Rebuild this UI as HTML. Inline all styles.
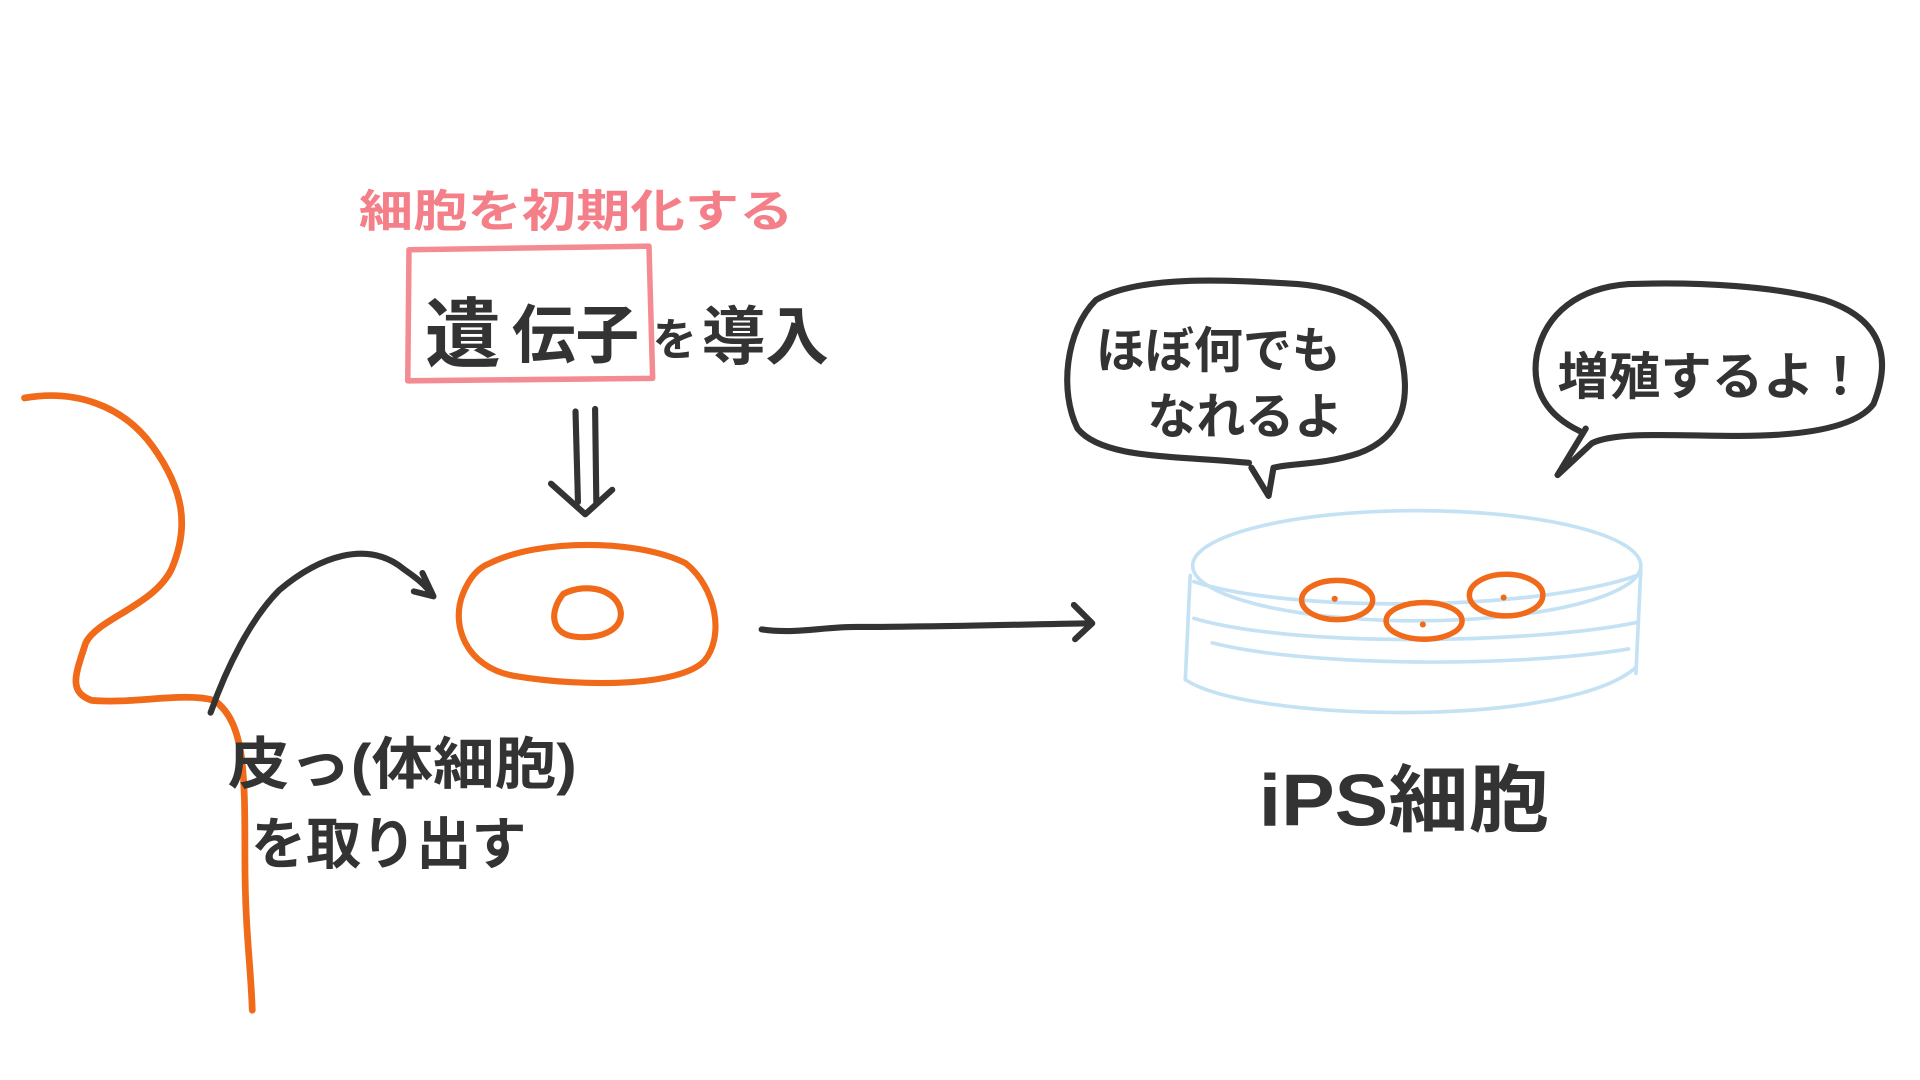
<!DOCTYPE html>
<html><head><meta charset="utf-8"><style>
html,body{margin:0;padding:0;background:#fff;width:1920px;height:1080px;overflow:hidden}
svg{display:block}
text{font-family:"Liberation Sans","Noto Sans CJK JP",sans-serif;font-weight:bold}
</style></head><body>
<svg width="1920" height="1080" viewBox="0 0 1568 882" xmlns="http://www.w3.org/2000/svg">
<g fill="none" stroke-linecap="round" stroke-linejoin="round">
<path d="M20 325 C60 318 100 330 125 365 C150 400 155 430 140 465 C125 495 80 505 70 525 C62 550 55 565 75 572 C110 575 150 565 175 572 C200 590 200 630 200 700 C200 760 205 790 206 825" stroke="#f06a1a" stroke-width="5.5"/>
<path d="M172 582 C185 545 205 505 228 482 C260 455 300 440 330 465 C340 472 348 478 352 485" stroke="#333" stroke-width="5"/>
<path d="M345 468 L354 487 L338 483" stroke="#333" stroke-width="5"/>
<path d="M400 460 C440 440 520 440 560 460 C585 480 592 520 575 540 C555 560 480 562 420 552 C380 545 368 510 378 485 C384 470 392 463 400 460 Z" stroke="#f06a1a" stroke-width="5"/>
<path d="M460 485 C480 475 505 482 507 500 C508 515 490 522 470 520 C450 518 448 500 460 485 Z" stroke="#f06a1a" stroke-width="5"/>
<path d="M470 336 L472 410 M486 334 L487 410 M450 395 L478 420 L500 400" stroke="#333" stroke-width="5"/>
<path d="M334 204 L530 201 L533 309 L333 311 Z" stroke="#f48a92" stroke-width="4.5"/>
<path d="M622 514 C650 518 670 512 700 512 C770 512 830 510 890 509" stroke="#333" stroke-width="5"/>
<path d="M877 494 L892 509 L878 522" stroke="#333" stroke-width="5"/>
<g stroke="#c5e2f5" stroke-width="3">
<ellipse cx="1157" cy="462" rx="183" ry="45"/>
<path d="M975 475 C1050 500 1250 500 1337 470"/>
<path d="M972 470 L968 555 M1340 465 L1336 550"/>
<path d="M968 555 C1020 590 1280 595 1336 545"/>
<path d="M975 505 C1060 530 1260 525 1338 508"/>
<path d="M990 525 C1070 545 1240 545 1330 530"/>
</g>
<g stroke="#f06a1a" stroke-width="4.5">
<ellipse cx="1092" cy="490" rx="29" ry="16"/>
<ellipse cx="1163" cy="507" rx="31" ry="15"/>
<ellipse cx="1230" cy="486" rx="30" ry="17"/>
</g>
<g fill="#f06a1a"><circle cx="1090" cy="489" r="2.5"/><circle cx="1162" cy="510" r="2.5"/><circle cx="1228" cy="488" r="2.5"/></g>
<path d="M1020 378 C960 372 900 375 880 350 C865 320 870 270 895 245 C930 225 1000 228 1060 232 C1110 236 1135 258 1143 285 C1152 320 1150 355 1110 370 C1080 380 1055 378 1040 382 L1036 405 L1022 382" stroke="#333" stroke-width="5"/>
<path d="M1290 352 C1265 340 1250 320 1255 290 C1262 255 1290 235 1330 232 C1390 230 1450 234 1490 245 C1530 258 1548 285 1530 330 C1515 350 1470 356 1420 356 C1370 356 1320 352 1300 362 L1272 388 L1295 350" stroke="#333" stroke-width="5"/>
</g>
<g fill="#f47f88" font-size="36"><text x="293" y="185" textLength="355" lengthAdjust="spacingAndGlyphs">細胞を初期化する</text></g>
<g fill="#333">
<text x="347" y="295" font-size="62">遺</text>
<text x="418" y="292" font-size="52">伝子</text>
<text x="533" y="290" font-size="36">を</text>
<text x="573" y="293" font-size="52">導入</text>
<text x="186" y="640" font-size="46" textLength="285" lengthAdjust="spacingAndGlyphs">皮っ(体細胞)</text>
<text x="205" y="705" font-size="46" textLength="225" lengthAdjust="spacingAndGlyphs">を取り出す</text>
<text x="895" y="300" font-size="40">ほぼ何でも</text>
<text x="937" y="354" font-size="40">なれるよ</text>
<text x="1272" y="322" font-size="42">増殖するよ！</text>
<text x="1028" y="674" font-size="60" textLength="237" lengthAdjust="spacingAndGlyphs">iPS細胞</text>
</g>
</svg>
</body></html>
